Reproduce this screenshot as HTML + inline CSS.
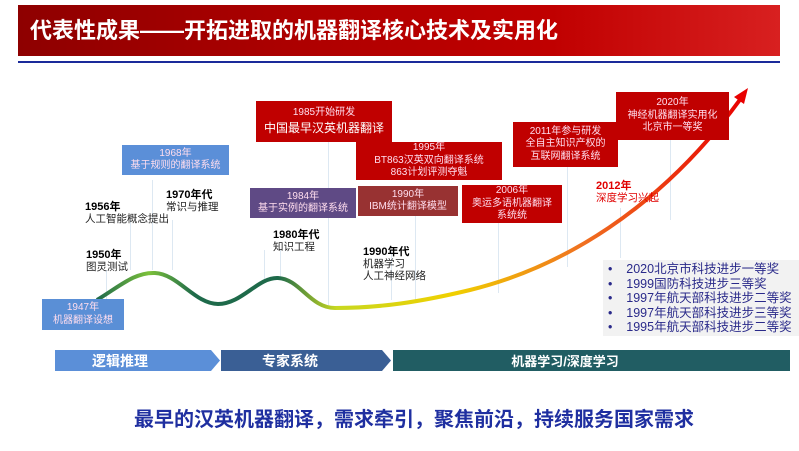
<!DOCTYPE html>
<html><head><meta charset="utf-8"><style>
body{margin:0;width:799px;height:451px;background:#fff;position:relative;overflow:hidden;font-family:"Liberation Sans","Noto Sans CJK SC",sans-serif}
.a{position:absolute}
.b{position:absolute;color:#fde;text-align:center;font-size:10px;line-height:12.5px;display:flex;flex-direction:column;justify-content:center}
.t{position:absolute;font-size:10.5px;line-height:12px;color:#222}
.t b{font-size:11px;color:#000}
.v{position:absolute;width:1px;background:#dde8f2}
</style></head><body>
<div class="a" style="left:18px;top:5px;width:762px;height:51px;background:linear-gradient(90deg,#8e0000,#b00000 40%,#c00000 70%,#d82020)"></div>
<div class="a" style="left:30px;top:15px;color:#fff;font-size:22px;font-weight:bold;line-height:32px;white-space:nowrap">代表性成果——开拓进取的机器翻译核心技术及实用化</div>
<div class="a" style="left:18px;top:61px;width:762px;height:2px;background:#1a2a9a"></div>

<div class="v" style="left:106px;top:270px;height:30px"></div>
<div class="v" style="left:130px;top:220px;height:50px"></div>
<div class="v" style="left:152px;top:180px;height:90px"></div>
<div class="v" style="left:172px;top:220px;height:50px"></div>
<div class="v" style="left:264px;top:250px;height:30px"></div>
<div class="v" style="left:280px;top:250px;height:30px"></div>
<div class="v" style="left:328px;top:140px;height:165px"></div>
<div class="v" style="left:391px;top:250px;height:50px"></div>
<div class="v" style="left:415px;top:215px;height:85px"></div>
<div class="v" style="left:498px;top:223px;height:70px"></div>
<div class="v" style="left:567px;top:167px;height:100px"></div>
<div class="v" style="left:620px;top:208px;height:50px"></div>
<div class="v" style="left:670px;top:140px;height:80px"></div>

<svg class="a" style="left:0;top:0" width="799" height="451">
<defs><linearGradient id="g" x1="97" y1="0" x2="745" y2="0" gradientUnits="userSpaceOnUse">
<stop offset="0" stop-color="#1e6a4a"/><stop offset="0.08" stop-color="#7cc13a"/><stop offset="0.15" stop-color="#1e6a4a"/><stop offset="0.28" stop-color="#1e6a4a"/><stop offset="0.37" stop-color="#c8d820"/><stop offset="0.55" stop-color="#f0d000"/><stop offset="0.75" stop-color="#f07020"/><stop offset="1" stop-color="#e80000"/></linearGradient></defs>
<path d="M97,300 C120,286 135,272 155,273 C178,274 195,304 218,304 C242,304 258,277 278,278 C300,279 310,308 335,308 C380,308 420,302 470,290 C560,268 660,210 742,97" fill="none" stroke="url(#g)" stroke-width="4"/>
<polygon points="748,88 734,97 744,104" fill="#e80000"/>
</svg>

<div class="b" style="left:42px;top:299px;width:82px;height:31px;background:#5a8fd6">1947年<br>机器翻译设想</div>
<div class="b" style="left:122px;top:145px;width:107px;height:30px;background:#5b8fd8">1968年<br>基于规则的翻译系统</div>
<div class="b" style="left:256px;top:101px;width:136px;height:41px;background:#c00000">1985开始研发<br><span style="color:#fff;font-size:12px;line-height:16px">中国最早汉英机器翻译</span></div>
<div class="b" style="left:356px;top:142px;width:146px;height:38px;background:#c00000">1995年<br>BT863汉英双向翻译系统<br>863计划评测夺魁</div>
<div class="b" style="left:250px;top:188px;width:106px;height:30px;background:#5f4a85">1984年<br>基于实例的翻译系统</div>
<div class="b" style="left:358px;top:186px;width:100px;height:30px;background:#983232">1990年<br>IBM统计翻译模型</div>
<div class="b" style="left:462px;top:185px;width:100px;height:38px;background:#c00000">2006年<br>奥运多语机器翻译<br>系统统</div>
<div class="b" style="left:513px;top:122px;width:105px;height:45px;background:#c00000">2011年参与研发<br>全自主知识产权的<br>互联网翻译系统</div>
<div class="b" style="left:616px;top:92px;width:113px;height:48px;background:#c00000">2020年<br>神经机器翻译实用化<br>北京市一等奖</div>

<div class="t" style="left:85px;top:201px"><b>1956年</b><br>人工智能概念提出</div>
<div class="t" style="left:166px;top:189px"><b>1970年代</b><br>常识与推理</div>
<div class="t" style="left:86px;top:249px"><b>1950年</b><br>图灵测试</div>
<div class="t" style="left:273px;top:229px"><b>1980年代</b><br>知识工程</div>
<div class="t" style="left:363px;top:246px"><b>1990年代</b><br>机器学习<br>人工神经网络</div>
<div class="t" style="left:596px;top:180px;color:#e00000"><b style="color:#e00000">2012年</b><br>深度学习兴起</div>

<div class="a" style="left:603px;top:260px;width:196px;height:76px;background:#f2f2f2"></div>
<div class="a" style="left:608px;top:262px;font-size:12.5px;line-height:14.5px;color:#2a2a8a;white-space:nowrap">
•&nbsp;&nbsp;&nbsp;&nbsp;2020北京市科技进步一等奖<br>•&nbsp;&nbsp;&nbsp;&nbsp;1999国防科技进步三等奖<br>•&nbsp;&nbsp;&nbsp;&nbsp;1997年航天部科技进步二等奖<br>•&nbsp;&nbsp;&nbsp;&nbsp;1997年航天部科技进步三等奖<br>•&nbsp;&nbsp;&nbsp;&nbsp;1995年航天部科技进步二等奖</div>

<svg class="a" style="left:0;top:0" width="799" height="451">
<polygon points="55,350 211,350 220,360.5 211,371 55,371" fill="#5b8fd8"/>
<polygon points="221,350 382,350 391,360.5 382,371 221,371" fill="#3a5f95"/>
<polygon points="393,350 790,350 790,371 393,371" fill="#215d63"/>
<text x="120" y="366" fill="#fff" font-size="14" font-weight="bold" text-anchor="middle" font-family="Liberation Sans,Noto Sans CJK SC,sans-serif">逻辑推理</text>
<text x="290" y="366" fill="#fff" font-size="14" font-weight="bold" text-anchor="middle" font-family="Liberation Sans,Noto Sans CJK SC,sans-serif">专家系统</text>
<text x="565" y="366" fill="#fff" font-size="13" font-weight="bold" text-anchor="middle" font-family="Liberation Sans,Noto Sans CJK SC,sans-serif">机器学习/深度学习</text>
</svg>

<div class="a" style="left:0;width:828px;top:406px;text-align:center;color:#1f2fa0;font-size:20px;font-weight:bold;line-height:28px;white-space:nowrap">最早的汉英机器翻译，需求牵引，聚焦前沿，持续服务国家需求</div>
</body></html>
